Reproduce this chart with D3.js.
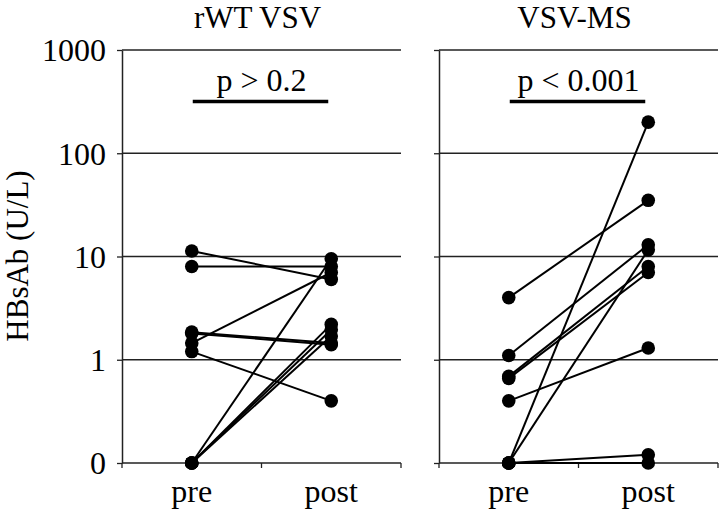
<!DOCTYPE html>
<html><head><meta charset="utf-8">
<script src="https://cdn.jsdelivr.net/npm/d3@7"></script>
<style>body{margin:0;background:#fff}svg{display:block}</style>
</head><body><svg id="c" width="720" height="510"></svg>
<script>
const categories = ["pre", "post"];
const panelTitles = ["rWT VSV", "VSV-MS"];
const pLabels = ["p > 0.2", "p < 0.001"];
const yTickValues = [0.1, 1, 10, 100, 1000];
const yTickLabels = ["0", "1", "10", "100", "1000"];
const yLabel = "HBsAb (U/L)";

// rWT VSV subjects (0 = below detection, drawn at the "0" line)
const rwtPre  = [11.3, 8, 1.45, 1.2, 1.85, 1.8, 0, 0, 0, 0];
const rwtPost = [6, 8, 7, 0.4, 1.45, 1.4, 9.5, 2.2, 1.95, 1.7];
// VSV-MS subjects
const msPre  = [4, 1.1, 0.69, 0.66, 0.4, 0, 0, 0, 0];
const msPost = [35, 13, 8, 7, 1.3, 200, 11.6, 0.12, 0];

const FONT = '"Liberation Serif"';
const svg = d3.select("#c");
const y = d3.scaleLog().domain([0.1, 1000]).range([463, 50]);
const yv = v => y(v <= 0 ? 0.1 : v);
const txt = sel => sel.style("font-family", FONT).attr("fill", "#000");

const panels = [
  {title: panelTitles[0], p: pLabels[0], pre: rwtPre, post: rwtPost, range: [122, 401], labels: true},
  {title: panelTitles[1], p: pLabels[1], pre: msPre, post: msPost, range: [439, 718], labels: false}
];

panels.forEach(pn => {
  const x = d3.scaleBand().domain(categories).range(pn.range);
  const cx = c => x(c) + x.bandwidth() / 2;
  const g = svg.append("g");
  const [x0, x1] = pn.range;

  // gridlines
  g.selectAll(".grid").data(yTickValues.slice(1)).join("line")
    .attr("x1", x0).attr("x2", x1).attr("y1", d => y(d)).attr("y2", d => y(d))
    .attr("stroke", "#222").attr("stroke-width", 1.3);

  // left axis
  const ax = d3.axisLeft(y).tickValues(yTickValues).tickSize(5).tickSizeOuter(0)
    .tickFormat((d, i) => pn.labels ? yTickLabels[i] : "");
  const ag = g.append("g").attr("transform", `translate(${x0},0)`).call(ax);
  ag.select(".domain").attr("stroke", "#222").attr("stroke-width", 1.5);
  ag.selectAll(".tick line").attr("stroke", "#222").attr("stroke-width", 1.3);
  ag.selectAll(".tick text").attr("font-size", 32).attr("x", -16).attr("dy", "0.34em").call(txt);

  // bottom axis
  g.append("line").attr("x1", x0).attr("x2", x1).attr("y1", y(0.1)).attr("y2", y(0.1))
    .attr("stroke", "#222").attr("stroke-width", 1.5);
  const bounds = categories.map(c => x(c)).concat([x1]);
  g.selectAll(".bt").data(bounds).join("line")
    .attr("x1", d => d).attr("x2", d => d).attr("y1", y(0.1)).attr("y2", y(0.1) + 5)
    .attr("stroke", "#222").attr("stroke-width", 1.3);
  g.selectAll(".bl").data(categories).join("text")
    .attr("x", d => cx(d)).attr("y", 502).attr("text-anchor", "middle")
    .attr("font-size", 32).text(d => d).call(txt);

  // title
  g.append("text").attr("x", (x0 + x1) / 2 - 4).attr("y", 28).attr("text-anchor", "middle")
    .attr("font-size", 31).text(pn.title).call(txt);
  // p value + bar
  g.append("text").attr("x", (cx("pre") + cx("post")) / 2).attr("y", 91).attr("text-anchor", "middle")
    .attr("font-size", 32).text(pn.p).call(txt);
  g.append("line").attr("x1", cx("pre") + 1).attr("x2", cx("post") - 3).attr("y1", 101.5).attr("y2", 101.5)
    .attr("stroke", "#000").attr("stroke-width", 3.5);

  // subject lines
  const pairs = pn.pre.map((v, i) => [v, pn.post[i]]);
  g.selectAll(".sl").data(pairs).join("line")
    .attr("x1", cx("pre")).attr("x2", cx("post"))
    .attr("y1", d => yv(d[0])).attr("y2", d => yv(d[1]))
    .attr("stroke", "#000").attr("stroke-width", 2);
  // dots
  g.selectAll(".dpre").data(pn.pre).join("circle")
    .attr("cx", cx("pre")).attr("cy", d => yv(d)).attr("r", 6.8).attr("fill", "#000");
  g.selectAll(".dpost").data(pn.post).join("circle")
    .attr("cx", cx("post")).attr("cy", d => yv(d)).attr("r", 6.8).attr("fill", "#000");
});

// y axis label
svg.append("text").attr("transform", "translate(28,256) rotate(-90)")
  .attr("text-anchor", "middle").attr("font-size", 31).text(yLabel).call(txt);
</script></body></html>
